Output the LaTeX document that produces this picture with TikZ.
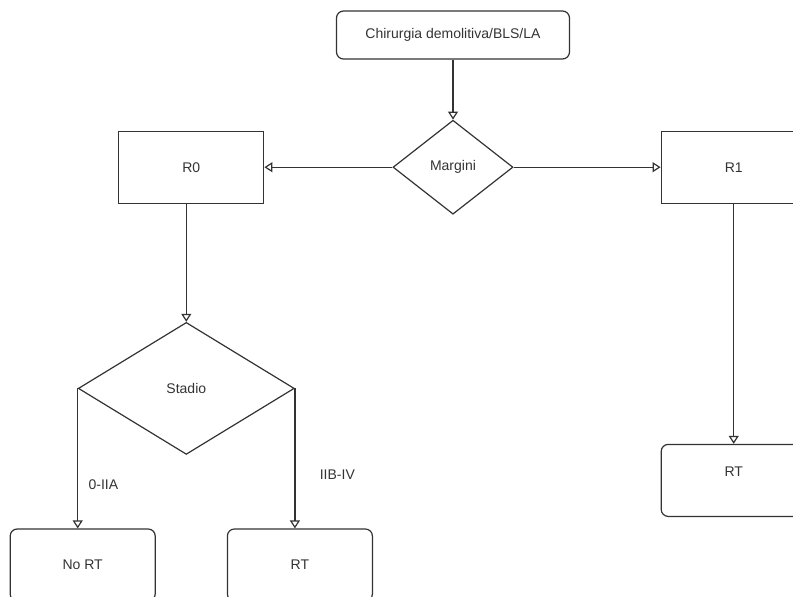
\documentclass[tikz,border=0pt]{standalone}
\usepackage{fontspec}
\setmainfont{Liberation Sans}
\usepackage{xcolor}
\usepackage{tikz}
\usetikzlibrary{shapes.geometric, arrows}
\usetikzlibrary{positioning, arrows.meta}
\usetikzlibrary{calc}
\definecolor{linegray}{HTML}{333333}

\begin{document}
\begin{tikzpicture}[
        x=1pt, y=-1pt, % 像素坐标, y轴向下
        every node/.style={font=\fontsize{14pt}{16pt}\selectfont, text=linegray},
        startstop/.style={rectangle, rounded corners=7pt, minimum width=233pt, minimum height=48pt, text centered, draw=linegray, line width=1.2pt},
        process/.style={rectangle, minimum width=145pt, minimum height=72pt, text centered, draw=linegray, line width=1.2pt},
        decision/.style={diamond, inner sep=0pt, text centered, draw=linegray, line width=1.2pt},
        result/.style={rectangle, rounded corners=7pt, minimum width=145pt, minimum height=72pt, text centered, draw=linegray, line width=1.2pt},
        arrow/.style={line width=1.2pt, draw=linegray, -{Triangle[open, length=8pt, width=10pt]}}
    ]
        \clip (0,0) rectangle (793,597);

        % ===== 上部 =====
        \node (start) [startstop] at (453,35) {Chirurgia demolitiva/BLS/LA};
        \node (margini) [decision, minimum width=120pt, minimum height=94pt, below=60pt of start] {Margini};
        \node (r0) [process, left=128pt of margini] {R0};
        \node (r1) [process, right=147pt of margini] {R1};

        % ===== 下部 =====
        \node (stadio) [decision, minimum width=216pt, minimum height=132pt, below=118pt of r0, xshift=-5pt] {Stadio};
        \node (noRT) [result, below=140pt of stadio.west, xshift=5pt] {No RT};
        \node (rtLeft) [result, below=140pt of stadio.east, xshift=5pt] {RT};
        \node (rtRight) [result, below=240pt of r1, text depth=18pt] {RT};

        % ===== 箭头连接 =====
        \draw [arrow] (start) -- (margini);
        \draw [arrow] (margini.west) -- (r0.east);
        \draw [arrow] (margini.east) -- (r1.west);
        \draw [arrow] (r0.south -| stadio.north) -- (stadio.north);
        \draw [arrow] (r1) -- (rtRight);

        % 分期
        \draw [arrow] (stadio.west) -- node[pos=0.686, right=7pt] {0-IIA} (noRT.north -| stadio.west);
        \draw [arrow] (stadio.east) -- node[pos=0.614, right=21pt] {IIB-IV} (rtLeft.north -| stadio.east);

    \end{tikzpicture}
\end{document}
